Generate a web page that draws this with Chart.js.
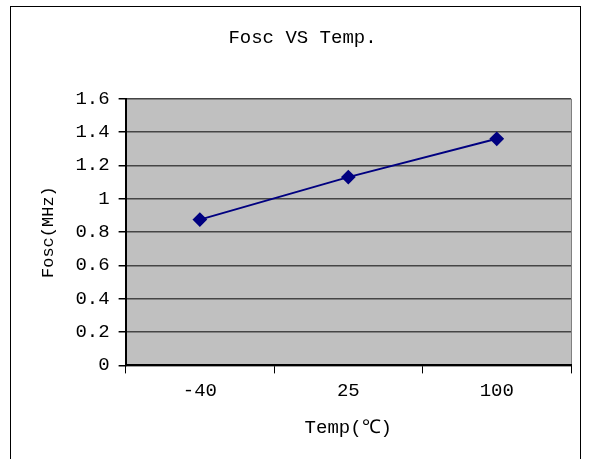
<!DOCTYPE html>
<html lang="en">
<head>
    <meta charset="UTF-8">
    <title>Fosc VS Temp.</title>
    <script src="https://cdn.jsdelivr.net/npm/chart.js"></script>
    <style>
        body { margin: 0; background: #fff; }
        .wrap { position: relative; width: 592px; height: 459px; overflow: hidden; }
        .frame { position: absolute; left: 10px; top: 6px; width: 569px; height: 470px; border: 1px solid #000; pointer-events: none; }
        canvas { position: absolute; left: 0; top: 0; }
    </style>
</head>
<body>
    <div class="wrap">
        <canvas id="chart" width="592" height="459"></canvas>
        <div class="frame"></div>
    </div>

    <script>
        // data
        const temps = ["-40", "25", "100"];
        const fosc = [0.875, 1.13, 1.36];
        const yTicks = [0, 0.2, 0.4, 0.6, 0.8, 1, 1.2, 1.4, 1.6];

        const font = "'Liberation Mono', 'DejaVu Sans Mono', monospace";

        // grey plot background like the old Excel charts
        const plotBg = {
            id: "plotBg",
            beforeDraw(chart) {
                const a = chart.chartArea;
                const ctx = chart.ctx;
                ctx.save();
                ctx.fillStyle = "#c0c0c0";
                ctx.fillRect(a.left, a.top, a.right - a.left, a.bottom - a.top);
                // right border of plot
                ctx.strokeStyle = "#808080";
                ctx.lineWidth = 1;
                ctx.beginPath();
                ctx.moveTo(a.right + 0.5, a.top);
                ctx.lineTo(a.right + 0.5, a.bottom);
                ctx.stroke();
                ctx.restore();
            }
        };

        new Chart(document.getElementById("chart"), {
            type: "line",
            data: {
                labels: temps,
                datasets: [{
                    data: fosc,
                    borderColor: "#000080",
                    backgroundColor: "#000080",
                    borderWidth: 2,
                    pointStyle: "rectRot",
                    pointRadius: 6,
                    pointHoverRadius: 6,
                    tension: 0
                }]
            },
            options: {
                responsive: false,
                animation: false,
                devicePixelRatio: 1,
                layout: { padding: { top: 27, right: 21, bottom: 16, left: 34 } },
                plugins: {
                    legend: { display: false },
                    tooltip: { enabled: false },
                    title: {
                        display: true,
                        text: "Fosc VS Temp.",
                        color: "#000",
                        font: { family: font, size: 19, weight: "normal" },
                        padding: { top: 0, bottom: 49 }
                    }
                },
                scales: {
                    x: {
                        offset: true,
                        grid: {
                            offset: true,
                            drawOnChartArea: false,
                            drawTicks: true,
                            tickLength: 8,
                            color: "#000"
                        },
                        border: { color: "#000", width: 2 },
                        ticks: { color: "#000", padding: 6, font: { family: font, size: 19 } },
                        title: {
                            display: true,
                            text: "Temp(℃)",
                            color: "#000",
                            font: { family: font, size: 19 },
                            padding: { top: 8 }
                        }
                    },
                    y: {
                        min: 0,
                        max: 1.6,
                        afterBuildTicks(axis) {
                            axis.ticks = yTicks.map(v => ({ value: v }));
                        },
                        grid: {
                            color: "#454545",
                            lineWidth: 1.5,
                            drawTicks: true,
                            tickLength: 7,
                            tickColor: "#000"
                        },
                        border: { color: "#000", width: 2 },
                        ticks: {
                            color: "#000",
                            padding: 9,
                            font: { family: font, size: 19 },
                            callback: v => String(v)
                        },
                        title: {
                            display: true,
                            text: "Fosc(MHz)",
                            color: "#000",
                            font: { family: font, size: 17 },
                            padding: { bottom: 8 }
                        }
                    }
                }
            },
            plugins: [plotBg]
        });
    </script>
</body>
</html>
